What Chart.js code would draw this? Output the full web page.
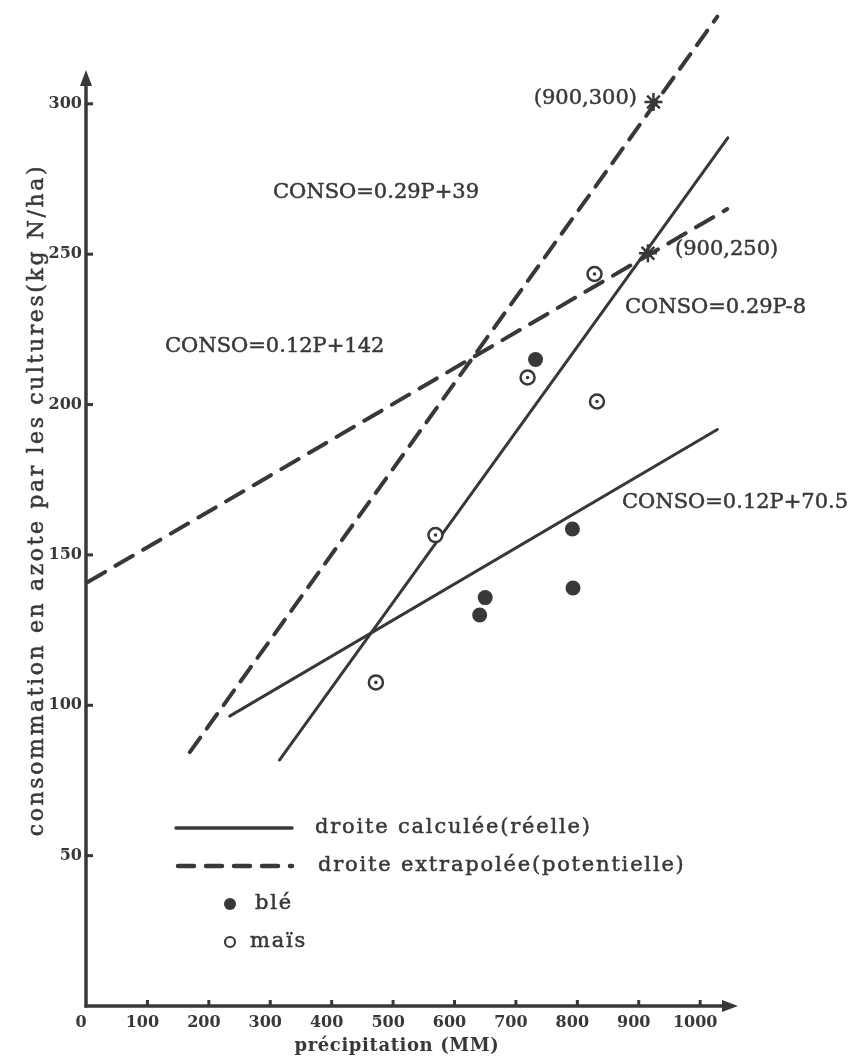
<!DOCTYPE html>
<html><head><meta charset="utf-8">
<script src="https://cdn.jsdelivr.net/npm/chart.js@4.4.1/dist/chart.umd.min.js"></script>
<style>html,body{margin:0;padding:0;background:#fff;}#wrap{width:855px;height:1059px;}</style>
</head><body><div id="wrap"><canvas id="c" width="855" height="1059"></canvas></div>
<script>
// ---- data ----
const xTicks = [0,100,200,300,400,500,600,700,800,900,1000];
const yTicks = [50,100,150,200,250,300];
const bleP  = [641, 650, 732, 792, 793];
const bleC  = [130, 135.8, 215, 158.6, 139];
const maisP = [472, 569, 719, 828, 832];
const maisC = [107.6, 156.6, 209, 243.4, 201];
const starP = [924, 915];
const starC = [300.6, 250.3];
const solidSteepP = [315, 1045];  const solidSteepC = [81.8, 288.7];   // CONSO=0.29P-8
const solidFlatP  = [234, 1028];  const solidFlatC  = [96.4, 191.7];   // CONSO=0.12P+70.5
const dashSteepP  = [169, 1028];  const dashSteepC  = [84.4, 329];     // CONSO=0.29P+39
const dashFlatP   = [3, 1044];    const dashFlatC   = [141, 265];      // CONSO=0.12P+142

const INK = '#383838';
const SERIF = '"DejaVu Serif", "Liberation Serif", serif';
const pts = (P, C) => P.map((p, i) => ({x: p, y: C[i]}));

const lineDs = (P, C, dash) => ({
  type: 'scatter', data: pts(P, C), showLine: true, pointRadius: 0,
  borderColor: INK, borderWidth: dash ? 4 : 3, borderDash: dash || [],
  borderCapStyle: 'round', order: 5
});

const deco = {
  id: 'deco',
  afterDraw(chart) {
    const {ctx, scales: {x, y}} = chart;
    const x0 = x.getPixelForValue(0), y0 = y.getPixelForValue(0);
    ctx.save();
    ctx.strokeStyle = INK; ctx.fillStyle = INK;
    // axes
    ctx.lineWidth = 3.5;
    ctx.beginPath(); ctx.moveTo(x0, y0 + 1.5); ctx.lineTo(x0, 80); ctx.stroke();
    ctx.beginPath(); ctx.moveTo(x0 - 1.5, y0); ctx.lineTo(726, y0); ctx.stroke();
    // arrow heads
    ctx.beginPath(); ctx.moveTo(x0, 70); ctx.lineTo(x0 - 6, 86); ctx.lineTo(x0 + 6, 86); ctx.closePath(); ctx.fill();
    ctx.beginPath(); ctx.moveTo(738, y0); ctx.lineTo(722, y0 - 6); ctx.lineTo(722, y0 + 6); ctx.closePath(); ctx.fill();
    // tick marks
    ctx.lineWidth = 3;
    xTicks.forEach(v => { if (!v) return; const px = x.getPixelForValue(v);
      ctx.beginPath(); ctx.moveTo(px, y0); ctx.lineTo(px, y0 - 6); ctx.stroke(); });
    yTicks.forEach(v => { const py = y.getPixelForValue(v);
      ctx.beginPath(); ctx.moveTo(x0, py); ctx.lineTo(x0 + 7, py); ctx.stroke(); });

    // equation / point labels (slightly emboldened like the print)
    const txt = (s, px, py) => { ctx.fillText(s, px, py); ctx.lineWidth = 0.5; ctx.strokeText(s, px, py); };
    ctx.textBaseline = 'middle';
    ctx.font = '21px ' + SERIF;
    ctx.textAlign = 'left';
    txt('CONSO=0.29P+39', 273, 193);
    txt('CONSO=0.12P+142', 165, 347);
    txt('CONSO=0.29P-8', 625, 308);
    txt('CONSO=0.12P+70.5', 622, 503);
    txt('(900,250)', 675, 250);
    ctx.textAlign = 'right';
    txt('(900,300)', 637, 99);

    // legend
    ctx.textAlign = 'left';
    ctx.font = '21px ' + SERIF;
    ctx.letterSpacing = '1.8px';
    ctx.lineCap = 'round';
    ctx.lineWidth = 3.5;
    ctx.beginPath(); ctx.moveTo(176, 828); ctx.lineTo(292, 828); ctx.stroke();
    txt('droite calculée(réelle)', 315, 828);
    ctx.lineWidth = 4.5;
    ctx.setLineDash([16, 12]);
    ctx.beginPath(); ctx.moveTo(178, 866); ctx.lineTo(292, 866); ctx.stroke();
    ctx.setLineDash([]);
    txt('droite extrapolée(potentielle)', 318, 866);
    ctx.beginPath(); ctx.arc(230, 904, 6, 0, Math.PI * 2); ctx.fill();
    txt('blé', 255, 904);
    ctx.lineWidth = 2.2;
    ctx.beginPath(); ctx.arc(230, 942, 5, 0, Math.PI * 2); ctx.stroke();
    txt('maïs', 250, 942);

    // axis titles
    ctx.textAlign = 'center';
    ctx.letterSpacing = '0.6px';
    ctx.font = 'bold 18px ' + SERIF;
    ctx.fillText('précipitation (MM)', 397, 1046);
    ctx.font = '22px ' + SERIF;
    ctx.letterSpacing = '2.6px';
    ctx.translate(37, 500); ctx.rotate(-Math.PI / 2);
    txt('consommation en azote par les cultures(kg N/ha)', 0, 0);
    ctx.restore();
  }
};

new Chart(document.getElementById('c'), {
  type: 'scatter',
  data: { datasets: [
    {label: 'blé', data: pts(bleP, bleC), pointRadius: 7.5, backgroundColor: INK, borderWidth: 0, order: 1},
    {label: 'maïs', data: pts(maisP, maisC), pointRadius: 7, backgroundColor: '#fff', borderColor: INK, borderWidth: 2.5, order: 2},
    {label: 'maïs centre', data: pts(maisP, maisC), pointRadius: 1.8, backgroundColor: INK, borderWidth: 0, order: 0},
    {label: 'points', data: pts(starP, starC), pointStyle: 'star', pointRadius: 9, borderColor: INK, borderWidth: 2.5, order: 0},
    lineDs(solidSteepP, solidSteepC),
    lineDs(solidFlatP, solidFlatC),
    lineDs(dashSteepP, dashSteepC, [18, 11]),
    lineDs(dashFlatP, dashFlatC, [20, 12])
  ]},
  options: {
    responsive: false, animation: false, devicePixelRatio: 1,
    layout: {padding: {top: 9.4, right: 118, left: 0, bottom: 0}},
    plugins: {legend: {display: false}, tooltip: {enabled: false}},
    scales: {
      x: {
        type: 'linear', min: 0, max: 1060,
        grid: {display: false, drawTicks: false}, border: {display: false},
        afterBuildTicks: s => { s.ticks = xTicks.map(v => ({value: v})); },
        afterFit: s => { s.height = 53; },
        ticks: {color: INK, font: {family: SERIF, size: 16, weight: 'bold'}, padding: 7, labelOffset: -5,
                maxRotation: 0, autoSkip: false, callback: v => String(v)}
      },
      y: {
        type: 'linear', min: 0, max: 330,
        grid: {display: false, drawTicks: false}, border: {display: false},
        afterBuildTicks: s => { s.ticks = yTicks.map(v => ({value: v})); },
        afterFit: s => { s.width = 86; },
        ticks: {color: INK, font: {family: SERIF, size: 16, weight: 'bold'}, padding: 4, autoSkip: false,
                callback: v => String(v)}
      }
    }
  },
  plugins: [deco]
});
</script>
</body></html>
